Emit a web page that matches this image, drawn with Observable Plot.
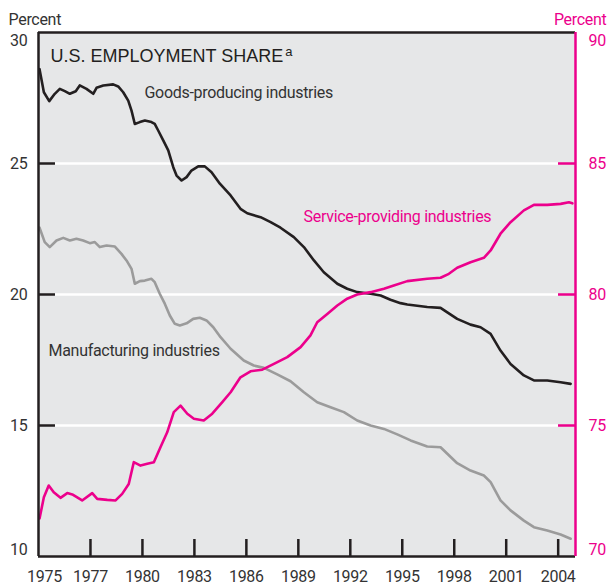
<!DOCTYPE html>
<html>
<head>
<meta charset="utf-8">
<script src="https://cdn.jsdelivr.net/npm/d3@7"></script>
<script src="https://cdn.jsdelivr.net/npm/@observablehq/plot@0.6"></script>
<style>
  html, body { margin: 0; padding: 0; background: #fff; }
  #chart svg { display: block; }
  #chart svg text { letter-spacing: -0.3px; }
  #chart svg g.chart-title text { letter-spacing: 0; }
</style>
</head>
<body>
<div id="chart"></div>
<script>
// ---- Data (share of U.S. employment, percent) ----
const goodsYear = [1974.06,1974.31,1974.62,1974.94,1975.23,1975.52,1975.81,1976.15,1976.38,1976.77,1977.16,1977.35,1977.74,1978.31,1978.60,1978.89,1979.18,1979.37,1979.56,1979.85,1980.14,1980.52,1980.71,1980.91,1981.20,1981.49,1981.78,1981.97,1982.26,1982.55,1982.83,1983.22,1983.60,1983.99,1984.47,1985.09,1985.66,1986.05,1986.82,1987.40,1987.97,1988.74,1989.32,1989.90,1990.47,1991.25,1991.82,1992.40,1993.17,1993.75,1994.32,1994.90,1995.29,1996.44,1997.21,1997.60,1998.17,1998.94,1999.52,2000.10,2000.67,2001.25,2002.02,2002.60,2003.37,2004.14,2004.72];
const goodsShare = [28.60,27.72,27.38,27.66,27.85,27.76,27.66,27.76,27.98,27.85,27.66,27.89,27.98,28.02,27.94,27.72,27.40,27.02,26.51,26.58,26.64,26.58,26.51,26.26,25.88,25.50,24.86,24.54,24.35,24.48,24.73,24.89,24.89,24.67,24.23,23.78,23.27,23.10,22.95,22.76,22.55,22.19,21.81,21.30,20.85,20.41,20.22,20.09,20.03,19.96,19.80,19.67,19.62,19.52,19.49,19.32,19.07,18.85,18.75,18.50,17.86,17.35,16.91,16.72,16.72,16.65,16.59];

const mfgYear = [1974.06,1974.36,1974.65,1975.04,1975.43,1975.81,1976.19,1976.58,1976.96,1977.25,1977.54,1977.93,1978.41,1978.79,1979.08,1979.37,1979.56,1979.85,1980.14,1980.52,1980.71,1981.00,1981.29,1981.58,1981.87,1982.16,1982.55,1982.93,1983.31,1983.70,1984.09,1984.51,1985.09,1985.85,1986.43,1987.01,1987.78,1988.55,1989.32,1990.09,1990.86,1991.63,1992.40,1993.17,1993.94,1994.71,1995.48,1996.44,1997.21,1997.60,1998.17,1998.94,1999.71,2000.10,2000.67,2001.25,2002.02,2002.60,2003.37,2004.14,2004.72];
const mfgShare = [22.55,22.00,21.81,22.06,22.16,22.06,22.13,22.06,21.96,22.00,21.81,21.87,21.83,21.55,21.30,20.98,20.41,20.51,20.53,20.60,20.47,20.03,19.65,19.20,18.88,18.82,18.90,19.07,19.11,19.01,18.75,18.37,17.93,17.48,17.29,17.20,16.95,16.69,16.27,15.89,15.70,15.51,15.19,15.00,14.87,14.66,14.43,14.20,14.17,13.92,13.56,13.28,13.09,12.84,12.14,11.76,11.37,11.12,10.99,10.84,10.68];

const svcYear = [1974.06,1974.31,1974.59,1974.88,1975.27,1975.66,1975.95,1976.52,1977.10,1977.39,1977.97,1978.45,1978.83,1979.21,1979.50,1979.89,1980.28,1980.66,1981.04,1981.43,1981.81,1982.20,1982.59,1982.97,1983.54,1984.03,1984.61,1985.09,1985.66,1986.24,1986.92,1987.59,1988.36,1989.13,1989.70,1990.09,1990.67,1991.25,1991.82,1992.40,1993.17,1993.94,1994.51,1995.29,1996.44,1997.21,1997.69,1998.17,1998.94,1999.71,2000.10,2000.67,2001.25,2002.02,2002.60,2003.37,2004.14,2004.62,2004.82];
const svcShare = [71.45,72.26,72.71,72.45,72.24,72.42,72.37,72.14,72.42,72.20,72.16,72.14,72.39,72.77,73.60,73.47,73.54,73.60,74.17,74.74,75.51,75.76,75.45,75.26,75.19,75.45,75.89,76.27,76.84,77.07,77.13,77.35,77.61,77.99,78.44,78.94,79.26,79.58,79.84,80.00,80.09,80.22,80.34,80.51,80.60,80.64,80.79,81.02,81.23,81.40,81.68,82.32,82.76,83.21,83.42,83.42,83.46,83.52,83.48];

const xTickYears = [1977,1980,1983,1986,1989,1992,1995,1998,2001,2004];
const firstYearLabel = "1975";
const leftTicks = [10,15,20,25,30];
const rightTicks = [70,75,80,85,90];
const RIGHT_OFFSET = 60; // right axis value = left axis value + 60

const seriesNames = ["Goods-producing industries","Manufacturing industries","Service-providing industries"];
const titleText = "U.S. EMPLOYMENT SHARE";
const titleNote = "a";
const axisTitle = "Percent";

// ---- Styles ----
const DARK = "#231f20", GRAY = "#9b9b9b", MAG = "#ec008c", TXT = "#333333", BG = "#e6e7e8";
const NARROW = "Roboto,'Liberation Sans Narrow','Arial Narrow',sans-serif";
const FS = 16;

const goods = goodsYear.map((y,i)=>({year:y, v:goodsShare[i]}));
const mfg = mfgYear.map((y,i)=>({year:y, v:mfgShare[i]}));
const svc = svcYear.map((y,i)=>({year:y, v:svcShare[i]}));

const X0 = 1974, X1 = 2005;
const midLeft = leftTicks.slice(1,-1);
const midRight = rightTicks.slice(1,-1);

const chart = Plot.plot({
  width: 607, height: 586,
  marginLeft: 38, marginRight: 32, marginTop: 32, marginBottom: 30,
  x: {domain: [X0, X1]},
  y: {domain: [leftTicks[0], leftTicks[leftTicks.length-1]]},
  style: {fontFamily: NARROW, fontSize: FS + "px", background: "#fff", overflow: "visible"},
  marks: [
    Plot.frame({fill: BG, stroke: "none"}),
    // gridlines
    Plot.ruleY(midLeft, {x1: 1974.98, x2: 2004.02, stroke: "#fff", strokeWidth: 2.5}),
    Plot.ruleY(midLeft, {x1: X0, x2: 1974.98, stroke: DARK, strokeWidth: 2.5}),
    Plot.ruleY(midRight.map(d => d - RIGHT_OFFSET), {x1: 2004.02, x2: X1, stroke: MAG, strokeWidth: 2.5}),
    // bottom ticks
    Plot.ruleX(xTickYears, {y1: 10, y2: 10.65, stroke: DARK, strokeWidth: 2.5}),
    // series
    Plot.line(mfg, {x: "year", y: "v", stroke: GRAY, strokeWidth: 2.6}),
    Plot.line(goods, {x: "year", y: "v", stroke: DARK, strokeWidth: 2.6}),
    Plot.line(svc, {x: "year", y: d => d.v - RIGHT_OFFSET, stroke: MAG, strokeWidth: 2.6}),
    // borders
    Plot.ruleY([30], {stroke: DARK, strokeWidth: 2.5}),
    Plot.ruleY([10], {stroke: DARK, strokeWidth: 2.5}),
    Plot.ruleX([X0], {stroke: DARK, strokeWidth: 2.5}),
    Plot.ruleX([X1], {stroke: MAG, strokeWidth: 2.5}),
    // axes
    Plot.axisX(xTickYears, {tickSize: 0, tickPadding: 14, tickFormat: d => String(d), fill: TXT, label: null, fontSize: FS}),
    Plot.text([firstYearLabel], {x: X0, y: 10, dx: 6, dy: 14, lineAnchor: "top", fill: TXT, fontSize: FS}),
    Plot.axisY(midLeft, {anchor: "left", tickSize: 0, tickPadding: 11, fill: TXT, label: null, fontSize: FS}),
    Plot.text([leftTicks[leftTicks.length-1]], {x: X0, y: d => d, dx: -11, dy: 8, textAnchor: "end", fill: TXT, fontSize: FS}),
    Plot.text([leftTicks[0]], {x: X0, y: d => d, dx: -11, dy: -7, textAnchor: "end", fill: TXT, fontSize: FS}),
    Plot.axisY(midRight.map(d => d - RIGHT_OFFSET), {anchor: "right", tickSize: 0, tickPadding: 13, tickFormat: d => String(d + RIGHT_OFFSET), fill: MAG, label: null, fontSize: FS}),
    Plot.text([rightTicks[rightTicks.length-1]], {x: X1, y: d => d - RIGHT_OFFSET, dx: 13, dy: 8, textAnchor: "start", fill: MAG, fontSize: FS}),
    Plot.text([rightTicks[0]], {x: X1, y: d => d - RIGHT_OFFSET, dx: 13, dy: -7, textAnchor: "start", fill: MAG, fontSize: FS}),
    Plot.text([axisTitle], {frameAnchor: "top-left", dx: -30, dy: -19, textAnchor: "start", fill: TXT, fontSize: FS}),
    Plot.text([axisTitle], {frameAnchor: "top-right", dx: 31, dy: -19, textAnchor: "end", fill: MAG, fontSize: FS}),
    // title
    Plot.text([titleText], {frameAnchor: "top-left", dx: 12, dy: 17, textAnchor: "start", fill: DARK, fontFamily: "'Liberation Sans',Arial,sans-serif", fontSize: 18, className: "chart-title"}),
    // series labels
    Plot.text([seriesNames[0]], {x: 1980.12, y: 27.71, textAnchor: "start", fill: TXT, fontSize: FS}),
    Plot.text([seriesNames[1]], {x: 1974.58, y: 17.86, textAnchor: "start", fill: TXT, fontSize: FS}),
    Plot.text([seriesNames[2]], {x: 1989.30, y: 82.98 - RIGHT_OFFSET, textAnchor: "start", fill: MAG, fontSize: FS})
  ]
});

document.getElementById("chart").appendChild(chart);
// superscript note marker on the title
d3.select(chart).select("g.chart-title text")
  .append("tspan").attr("dy", "-0.45em").attr("dx", "2").attr("font-size", "13px").text(titleNote);
</script>
</body>
</html>
